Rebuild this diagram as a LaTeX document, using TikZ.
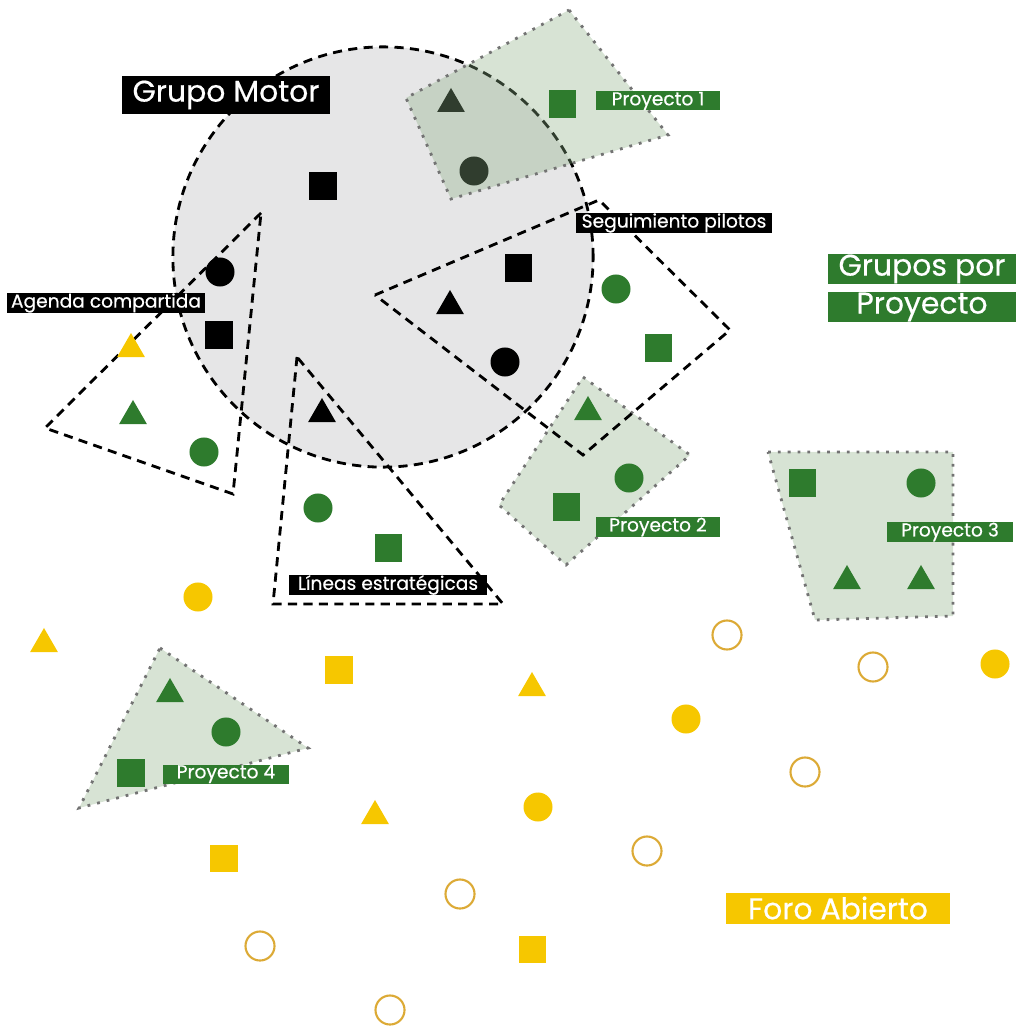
\documentclass[tikz,border=0pt]{standalone}
\usepackage{fontspec}
\setmainfont{Poppins}
\newfontfamily\rotulo{Poppins}[FakeBold=0.5]
\usetikzlibrary{shapes.geometric}

\definecolor{motorgris}{HTML}{E6E6E7}
\definecolor{verde}{HTML}{2E7B2D}
\definecolor{verdeclaro}{HTML}{8BAF84}
\definecolor{amarillo}{HTML}{F6C700}
\definecolor{ocre}{HTML}{DCAA36}

\tikzset{
  sq/.style={rectangle, minimum size=0.27cm, inner sep=0pt},
  dot/.style={circle, minimum size=0.29cm, inner sep=0pt},
  tri/.style={regular polygon, regular polygon sides=3, minimum size=0.32cm, inner sep=0pt},
  ring/.style={circle, draw=ocre, line width=0.6pt, minimum size=0.29cm, inner sep=0pt},
  grupo/.style={dash pattern=on 2.6pt off 1.8pt, line width=0.8pt},
  proyecto/.style={fill=verdeclaro, fill opacity=0.35, draw=black!55, dotted, line width=0.8pt},
  etiqueta/.style={text=white, inner sep=0pt, minimum height=0.19cm, font=\rotulo\fontsize{5.3}{6}\selectfont},
  titulo/.style={text=white, inner sep=0pt, minimum height=0.30cm, font=\rotulo\fontsize{8.5}{9}\selectfont},
}

\begin{document}
\begin{tikzpicture}[x=0.01cm, y=-0.01cm]
    \useasboundingbox (0,0) rectangle (1019,1028);

    % grupo motor
    \draw [grupo, fill=motorgris] (383,257) circle [radius=2.10cm];

    % proyectos 2, 3 y 4
    \draw [proyecto] (583,377) -- (690,455) -- (566,565) -- (499,505) -- cycle;
    \draw [proyecto] (768,452) -- (953,452) -- (953,616) -- (815,620) -- cycle;
    \draw [proyecto] (160,648) -- (308,748) -- (79,808) -- cycle;

    % agenda, seguimiento, lineas
    \draw [grupo] (261,213) -- (45,428) -- (233,494) -- cycle;
    \draw [grupo] (375,295) -- (599,200) -- (730,330) -- (583,455) -- cycle;
    \draw [grupo] (297,357) -- (273,604) -- (503,604) -- cycle;

    % miembros del grupo motor
    \node [sq, fill=black] (m1) at (323,186) {};
    \node [dot, fill=black] (m2) at (220,272) {};
    \node [sq, fill=black] (m3) at (219,335) {};
    \node [tri, fill=black] (m4) at (322,414) {};
    \node [sq, fill=black] (m5) at (518,268) {};
    \node [tri, fill=black] (m6) at (450,306) {};
    \node [dot, fill=black] (m7) at (505,362) {};
    \node [tri, fill=black] (m8) at (451,104) {};
    \node [dot, fill=black] (m9) at (474,171) {};

    % proyecto 1
    \draw [proyecto] (569,10) -- (668,135) -- (451,199) -- (406,98) -- cycle;

    % grupos por proyecto
    \node [sq, fill=verde] (p1) at (562,104) {};
    \node [tri, fill=verde] (a1) at (133,416) {};
    \node [dot, fill=verde] (a2) at (204,452) {};
    \node [dot, fill=verde] (s1) at (616,289) {};
    \node [sq, fill=verde] (s2) at (658,348) {};
    \node [tri, fill=verde] (q1) at (588,412) {};
    \node [dot, fill=verde] (q2) at (629,478) {};
    \node [sq, fill=verde] (q3) at (566,507) {};
    \node [dot, fill=verde] (l1) at (318,508) {};
    \node [sq, fill=verde] (l2) at (388,548) {};
    \node [sq, fill=verde] (r1) at (802,483) {};
    \node [dot, fill=verde] (r2) at (921,483) {};
    \node [tri, fill=verde] (r3) at (847,581) {};
    \node [tri, fill=verde] (r4) at (921,581) {};
    \node [tri, fill=verde] (t1) at (170,694) {};
    \node [dot, fill=verde] (t2) at (226,732) {};
    \node [sq, fill=verde] (t3) at (131,773) {};

    % foro abierto
    \node [tri, fill=amarillo] (f1) at (131,349) {};
    \node [dot, fill=amarillo] (f2) at (198,597) {};
    \node [tri, fill=amarillo] (f3) at (44,644) {};
    \node [sq, fill=amarillo] (f4) at (339,670) {};
    \node [tri, fill=amarillo] (f5) at (532,688) {};
    \node [ring] (f6) at (727,635) {};
    \node [ring] (f7) at (873,667) {};
    \node [dot, fill=amarillo] (f8) at (995,664) {};
    \node [dot, fill=amarillo] (f9) at (686,719) {};
    \node [ring] (f10) at (805,772) {};
    \node [tri, fill=amarillo] (f11) at (375,816) {};
    \node [dot, fill=amarillo] (f12) at (538,807) {};
    \node [sq, fill=amarillo] (f13) at (224,858) {};
    \node [ring] (f14) at (647,851) {};
    \node [ring] (f15) at (460,894) {};
    \node [ring] (f16) at (260,946) {};
    \node [sq, fill=amarillo] (f17) at (532,949) {};
    \node [ring] (f18) at (390,1010) {};

    % etiquetas
    \node [titulo, fill=black, minimum width=2.08cm, minimum height=0.38cm] (motor) at (226,95) {Grupo Motor};
    \node [etiqueta, fill=black, minimum width=1.97cm] (agenda) at (106,303) {Agenda compartida};
    \node [etiqueta, fill=black, minimum width=1.96cm] (seguim) at (674,223) {Seguimiento pilotos};
    \node [etiqueta, fill=black, minimum width=1.98cm] (lineas) at (388,585) {Líneas estratégicas};
    \node [etiqueta, fill=verde, minimum width=1.24cm] (proy1) at (658,101) {Proyecto 1};
    \node [etiqueta, fill=verde, minimum width=1.24cm] (proy2) at (658,527) {Proyecto 2};
    \node [etiqueta, fill=verde, minimum width=1.25cm] (proy3) at (950,532) {Proyecto 3};
    \node [etiqueta, fill=verde, minimum width=1.25cm] (proy4) at (226,774) {Proyecto 4};
    \node [titulo, fill=verde, minimum width=1.87cm] (grupos) at (922,269) {Grupos por};
    \node [titulo, fill=verde, minimum width=1.87cm] (gproy) at (922,307) {Proyecto};
    \node [titulo, fill=amarillo, minimum width=2.23cm, minimum height=0.31cm] (foro) at (838,908) {Foro Abierto};
\end{tikzpicture}
\end{document}
